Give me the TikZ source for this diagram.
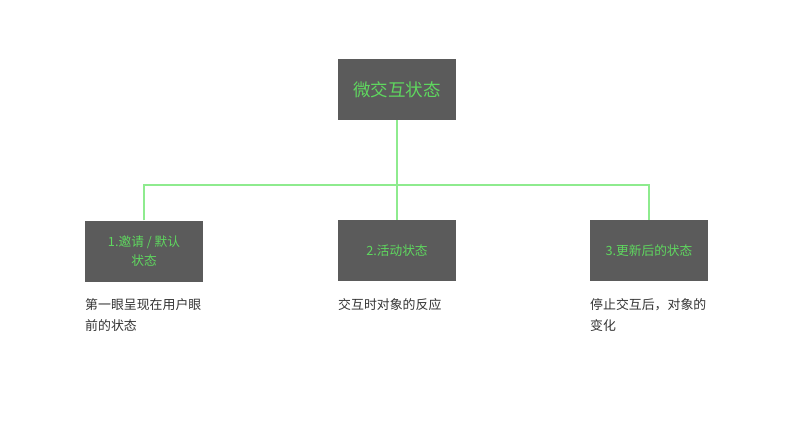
\documentclass[tikz,border=0pt]{standalone}
\usepackage{fontspec}
\setmainfont{Noto Sans CJK SC}
\definecolor{boxgray}{HTML}{5B5B5B}
\definecolor{txtgreen}{HTML}{5FD85F}
\definecolor{linegreen}{HTML}{8EEB8E}
\definecolor{desc}{HTML}{333333}
\begin{document}
\begin{tikzpicture}[x=1pt,y=-1pt,
  box/.style={fill=boxgray,draw=none,minimum width=118pt,minimum height=61pt,inner sep=0pt,text=txtgreen,align=center,font=\fontsize{12.7}{19}\selectfont},
  topbox/.style={box,font=\fontsize{17.5}{20}\selectfont},
  conn/.style={draw=linegreen,line width=2pt},
  desctext/.style={anchor=north west,text=desc,align=left,inner sep=0pt,font=\fontsize{12.9}{21}\selectfont}]
\useasboundingbox (0,0) rectangle (800,426);
\node[topbox] (top) at (397,89.5) {微交互状态};
\node[box] (b1) at (144,251) {1.邀请 / 默认\\状态};
\node[box] (b2) at (397,250.5) {2.活动状态};
\node[box] (b3) at (649,250.5) {3.更新后的状态};
\coordinate (j) at (397,185);
\draw[conn] (top.south) -- (b2.north);
\draw[conn] (b1.north) -- (b1.north |- j) -- (b3.north |- j) -- (b3.north);
\node[desctext] (d1) at (85,298) {第一眼呈现在用户眼\\前的状态};
\node[desctext] (d2) at (338,298) {交互时对象的反应};
\node[desctext] (d3) at (590,298) {停止交互后，对象的\\变化};
\end{tikzpicture}
\end{document}
